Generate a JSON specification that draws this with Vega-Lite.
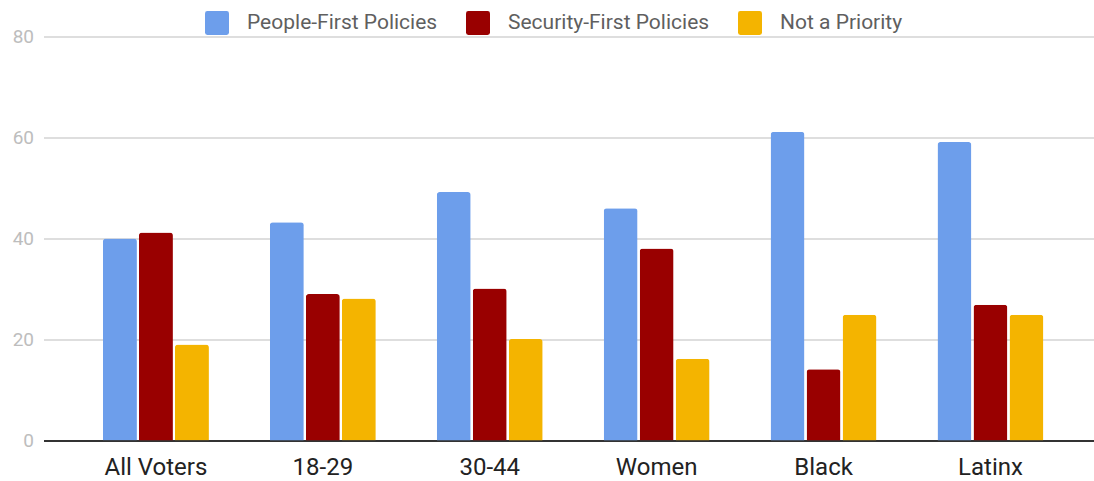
{
  "$schema": "https://vega.github.io/schema/vega-lite/v6.json",
  "width": 1050,
  "height": 404,
  "autosize": {"type": "none"},
  "padding": {"left": 43.5, "top": 36.5, "right": 0, "bottom": 40.5},
  "background": "white",
  "config": {
    "view": {"stroke": null},
    "font": "Roboto"
  },
  "data": {
    "values": [
      {"group": "All Voters", "series": "People-First Policies", "value": 40},
      {"group": "All Voters", "series": "Security-First Policies", "value": 41.2},
      {"group": "All Voters", "series": "Not a Priority", "value": 19},
      {"group": "18-29", "series": "People-First Policies", "value": 43.2},
      {"group": "18-29", "series": "Security-First Policies", "value": 29},
      {"group": "18-29", "series": "Not a Priority", "value": 28.1},
      {"group": "30-44", "series": "People-First Policies", "value": 49.2},
      {"group": "30-44", "series": "Security-First Policies", "value": 30.1},
      {"group": "30-44", "series": "Not a Priority", "value": 20.1},
      {"group": "Women", "series": "People-First Policies", "value": 46},
      {"group": "Women", "series": "Security-First Policies", "value": 38},
      {"group": "Women", "series": "Not a Priority", "value": 16.2},
      {"group": "Black", "series": "People-First Policies", "value": 61.1},
      {"group": "Black", "series": "Security-First Policies", "value": 14.1},
      {"group": "Black", "series": "Not a Priority", "value": 24.9},
      {"group": "Latinx", "series": "People-First Policies", "value": 59.1},
      {"group": "Latinx", "series": "Security-First Policies", "value": 26.9},
      {"group": "Latinx", "series": "Not a Priority", "value": 24.9}
    ]
  },
  "mark": {"type": "bar", "cornerRadiusTopLeft": 3, "cornerRadiusTopRight": 3},
  "encoding": {
    "x": {
      "field": "group",
      "type": "nominal",
      "sort": ["All Voters", "18-29", "30-44", "Women", "Black", "Latinx"],
      "scale": {"paddingInner": 0.365, "paddingOuter": 0.328, "align": 0.543},
      "axis": {
        "title": null,
        "labelAngle": 0,
        "labelFont": "Roboto",
        "labelFontSize": 24,
        "labelColor": "#222222",
        "labelPadding": 15,
        "ticks": false,
        "domainColor": "#333333",
        "domainWidth": 2,
        "grid": false
      }
    },
    "xOffset": {
      "field": "series",
      "type": "nominal",
      "sort": ["People-First Policies", "Security-First Policies", "Not a Priority"],
      "scale": {"paddingInner": 0.056, "paddingOuter": 0}
    },
    "y": {
      "field": "value",
      "type": "quantitative",
      "scale": {"domain": [0, 80], "nice": false},
      "axis": {
        "title": null,
        "values": [0, 20, 40, 60, 80],
        "labelFont": "Roboto",
        "labelFontSize": 19,
        "labelColor": "#bdbdbd",
        "labelPadding": 10,
        "ticks": false,
        "domain": false,
        "gridColor": "#d3d3d3",
        "gridWidth": 1.5
      }
    },
    "color": {
      "field": "series",
      "type": "nominal",
      "sort": ["People-First Policies", "Security-First Policies", "Not a Priority"],
      "scale": {
        "domain": ["People-First Policies", "Security-First Policies", "Not a Priority"],
        "range": ["#6d9eeb", "#990000", "#f4b400"]
      },
      "legend": {
        "title": null,
        "orient": "none",
        "direction": "horizontal",
        "legendX": 161.5,
        "legendY": -25.5,
        "symbolType": "M -0.8 -1 H 0.8 Q 1 -1 1 -0.8 V 0.8 Q 1 1 0.8 1 H -0.8 Q -1 1 -1 0.8 V -0.8 Q -1 -1 -0.8 -1 Z",
        "symbolSize": 576,
        "symbolStrokeWidth": 0,
        "symbolOpacity": 1,
        "labelFont": "Roboto",
        "labelFontSize": 21,
        "labelColor": "#5f5f5f",
        "labelOffset": 18,
        "columnPadding": 28,
        "labelLimit": 400
      }
    }
  }
}
